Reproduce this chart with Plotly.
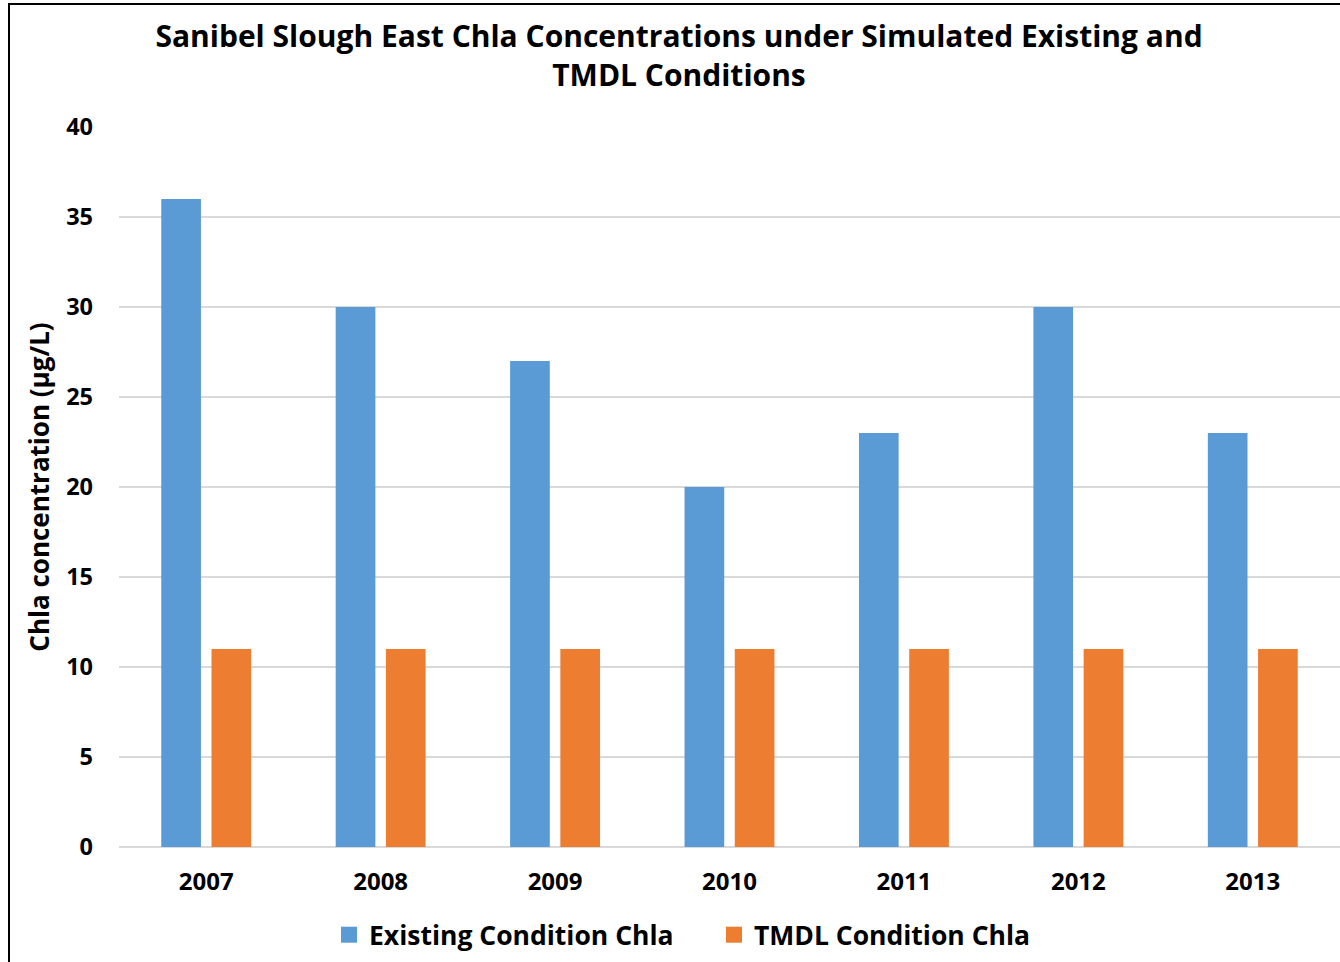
import plotly.graph_objects as go

years = ["2007", "2008", "2009", "2010", "2011", "2012", "2013"]
existing = [36, 30, 27, 20, 23, 30, 23]
tmdl = [11, 11, 11, 11, 11, 11, 11]
y_ticks = [0, 5, 10, 15, 20, 25, 30, 35, 40]
series_names = ["Existing Condition Chla", "TMDL Condition Chla"]
colors = ["#5B9BD5", "#ED7D31"]

W, H = 1340, 962
ML, MR, MT, MB = 119, 0, 127, 115
PW, PH = W - ML - MR, H - MT - MB

def px(x):
    return (x - ML) / PW

def py(y):
    return (H - MB - y) / PH

FONT = "Open Sans"

fig = go.Figure()
for vals, name, col in zip([existing, tmdl], series_names, colors):
    fig.add_trace(go.Bar(x=years, y=vals, name=name, showlegend=False,
                         marker=dict(color=col, line=dict(width=0))))
# legend entries with larger square swatches
for name, col in zip(series_names, colors):
    fig.add_trace(go.Scatter(x=[None], y=[None], mode="markers", name=f"<b>{name}</b>",
                             marker=dict(symbol="square", size=17, color=col),
                             hoverinfo="skip"))

fig.update_layout(
    width=W, height=H,
    margin=dict(l=ML, r=MR, t=MT, b=MB),
    paper_bgcolor="white", plot_bgcolor="white",
    barmode="group", bargap=0.424, bargroupgap=0.21,
    font=dict(family=FONT, color="black"),
    title=dict(
        text="<b>Sanibel Slough East Chla Concentrations under Simulated Existing and<br>TMDL Conditions</b>",
        x=679 / W, xanchor="center", y=1 - 47 / H, yanchor="middle",
        font=dict(size=30, family=FONT, color="black"),
    ),
    xaxis=dict(
        showgrid=False, showline=False, zeroline=False,
        tickfont=dict(size=24, family=FONT, color="black"),
        ticks="", ticklabelstandoff=18,
        tickprefix="<b>", ticksuffix="</b>",
    ),
    yaxis=dict(
        range=[0, 40], tickvals=y_ticks,
        ticktext=[f"<b>{v}</b>" for v in y_ticks],
        showgrid=True, gridcolor="#D9D9D9", gridwidth=1.5,
        zeroline=True, zerolinecolor="#D9D9D9", zerolinewidth=1.5,
        showline=False, ticks="",
        tickfont=dict(size=23.5, family=FONT, color="black"),
        ticklabelstandoff=25,
        title=dict(text="<b>Chla concentration (µg/L)</b>",
                   font=dict(size=26, family=FONT, color="black"), standoff=9),
    ),
    legend=dict(
        orientation="h", x=px(714), xanchor="center", y=py(935), yanchor="middle",
        font=dict(size=26.5, family=FONT, color="black"),
        traceorder="normal", entrywidth=340,
    ),
    shapes=[dict(type="rect", xref="paper", yref="paper",
                 x0=px(9), x1=px(W + 20), y0=py(H + 20), y1=py(4),
                 line=dict(color="black", width=2), fillcolor="rgba(0,0,0,0)",
                 layer="above")],
)

fig.write_html("out.html")
